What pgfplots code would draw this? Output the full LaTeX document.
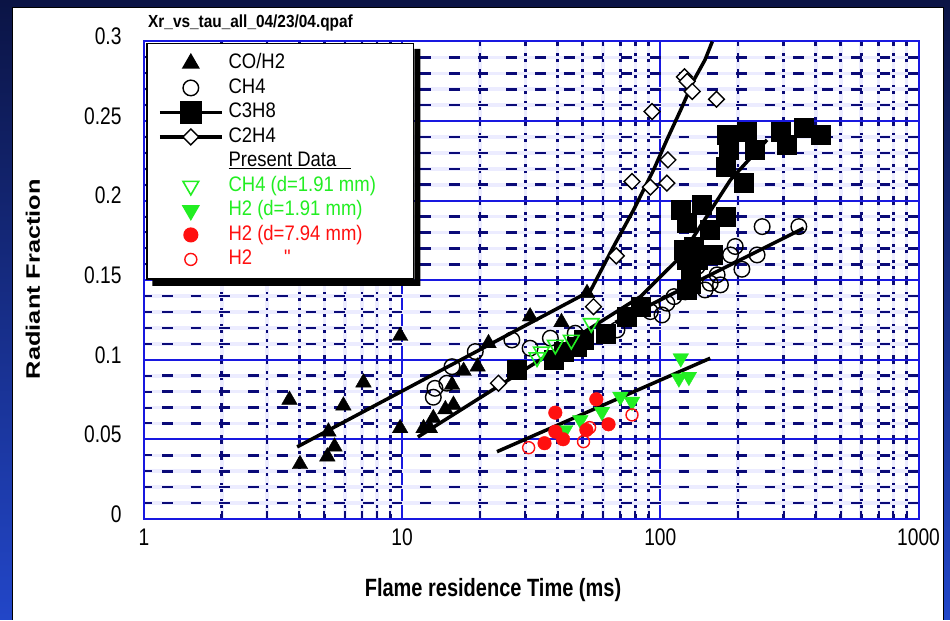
\documentclass[border=0pt]{standalone}
\usepackage{pgfplots}
\pgfplotsset{compat=1.18}
\usepackage{fontspec}
\setmainfont{Liberation Sans}
\newfontfamily\condfont[FakeStretch=0.8]{Liberation Sans}
\newfontfamily\legfont[FakeStretch=0.88]{Liberation Sans}
\newfontfamily\widefont[FakeStretch=1.3]{Liberation Sans}

\definecolor{gridnavy}{HTML}{0A0A78}
\definecolor{gridlav}{HTML}{ECECFF}
\definecolor{gridblue}{HTML}{1818E0}
\definecolor{ptgreen}{HTML}{22EE22}
\definecolor{ptred}{HTML}{FF1010}
\definecolor{bgtop}{HTML}{0B1445}
\definecolor{bgbot}{HTML}{2246C8}

\pgfplotsset{
  markleg/.style={legend image code/.code={\draw plot coordinates {(31pt,0pt)};}},
  lineleg/.style={legend image code/.code={\draw[mark repeat=2,mark phase=2] plot coordinates {(0pt,0pt) (31pt,0pt) (62pt,0pt)};}},
  fitline/.style={black, line width=3.5pt, line join=round, no marks, forget plot},
}

\begin{document}
\begin{tikzpicture}[x=1pt,y=1pt]
% slide background and white chart panel
\shade[top color=bgtop, bottom color=bgbot] (0,0) rectangle (950,620);
\fill[white] (12,0) rectangle (943,612);
\draw[black, line width=1pt] (12,0) -- (12,612) -- (943,612) -- (943,0);

\node[anchor=west, inner sep=0pt] at (148,597)
  {\legfont\bfseries\fontsize{17.5}{17.5}\selectfont Xr\_vs\_tau\_all\_04/23/04.qpaf};

\begin{axis}[
  at={(144pt,101pt)}, anchor=south west,
  scale only axis, width=774.5pt, height=477.5pt,
  xmode=log, xmin=1, xmax=1000, ymin=0, ymax=0.3,
  xtick={1,10,100,1000}, xticklabels={1,10,100,1000},
  minor xtick={2,...,9,20,30,...,90,200,300,...,900},
  ytick={0,0.05,0.1,0.15,0.2,0.25,0.3},
  yticklabels={0,0.05,0.1,0.15,0.2,0.25,0.3},
  minor ytick={0.01,0.02,0.03,0.04,0.06,0.07,0.08,0.09,0.11,0.12,0.13,0.14,
    0.16,0.17,0.18,0.19,0.21,0.22,0.23,0.24,0.26,0.27,0.28,0.29},
  grid=both,
  major grid style={draw=gridblue, line width=1.9pt, solid},
  minor x grid style={gridnavy, line width=2.6pt, dash pattern=on 9pt off 6.91pt, dash phase=4.5pt,
     preaction={draw=gridlav, line width=3.6pt, solid}},
  minor y grid style={gridnavy, line width=2.6pt, dash pattern=on 10.7pt off 18pt, dash phase=10.7pt,
     preaction={draw=gridlav, line width=3.6pt, solid}},
  axis line style={gridblue, line width=2pt},
  tick style={gridnavy, line width=2pt},
  major tick length=0pt, minor tick length=8pt,
  tick align=inside, xtick pos=bottom, ytick pos=both,
  ticklabel style={font=\condfont\fontsize{24}{24}\selectfont, text=black},
  yticklabel style={xshift=-19pt, yshift=5pt},
  xticklabel style={yshift=-6pt},
  xlabel={Flame residence Time (ms)},
  xlabel style={at={(axis description cs:0.4506,-0.1487)}, anchor=center,
     font=\condfont\bfseries\fontsize{25}{25}\selectfont},
  ylabel={Radiant Fraction},
  ylabel style={at={(axis description cs:-0.1433,0.5026)}, anchor=center, rotate=0,
     font=\widefont\bfseries\fontsize{19.5}{19.5}\selectfont},
  legend style={name=leg, at={(axis description cs:0.003,0.997)}, anchor=north west,
     draw=black, line width=1.5pt, fill=white,
     font=\legfont\fontsize{21}{21}\selectfont,
     inner xsep=11pt, inner ysep=10pt, row sep=5pt, column sep=3pt,
     nodes={inner ysep=0pt, text height=15pt, text depth=4.5pt}},
  legend cell align=left,
]

% legend
\addlegendimage{markleg, black, mark=triangle*, mark size=9pt}
\addlegendentry{\makebox[172pt][l]{CO/H2}}
\addlegendimage{markleg, black, mark=o, mark size=7.8pt, line width=1.4pt}
\addlegendentry{CH4}
\addlegendimage{lineleg, black, line width=3.5pt, mark=square*, mark size=9.5pt}
\addlegendentry{C3H8}
\addlegendimage{lineleg, black, line width=3.5pt, mark=square*, mark size=5.6pt,
   mark options={rotate=45, fill=white, draw=black, line width=1.4pt}}
\addlegendentry{C2H4}
\addlegendimage{empty legend}
\addlegendentry{\underline{Present Data\hspace{15pt}}}
\addlegendimage{markleg, ptgreen, mark=triangle, mark size=9pt, line width=1.6pt, mark options={rotate=180}}
\addlegendentry{\textcolor{ptgreen}{CH4 (d=1.91 mm)}}
\addlegendimage{markleg, ptgreen, mark=triangle*, mark size=9pt, mark options={rotate=180}}
\addlegendentry{\textcolor{ptgreen}{H2 (d=1.91 mm)}}
\addlegendimage{markleg, ptred, mark=*, mark size=6.8pt}
\addlegendentry{\textcolor{ptred}{H2 (d=7.94 mm)}}
\addlegendimage{markleg, ptred, mark=o, mark size=6pt, line width=1.4pt}
\addlegendentry{\textcolor{ptred}{H2\hspace{32pt}"}}

% correlation lines
\addplot[fitline] coordinates {(3.92,0.0453) (53.6,0.1433) (65.9,0.1712) (78.8,0.1942) (94.2,0.2194)
  (106,0.2382) (120,0.2571) (135,0.2759) (149,0.2885) (159,0.3)};
\addplot[fitline] coordinates {(11.5,0.0515) (83.7,0.1397) (120,0.1649) (187,0.2131) (259,0.2382)};
\addplot[fitline] coordinates {(66.9,0.1235) (359,0.1827)};
\addplot[fitline] coordinates {(23.3,0.0423) (156,0.101)};

% CO/H2
\addplot[only marks, black, mark=triangle*, mark size=9pt, forget plot] coordinates {
 (3.66,0.0748) (4.02,0.0344) (5.13,0.0392) (5.47,0.0454) (5.18,0.0549) (5.92,0.0712)
 (7.08,0.0857) (9.82,0.115) (9.82,0.057) (12.1,0.057) (12.8,0.057) (13.2,0.0633)
 (14.7,0.0689) (15.8,0.0717) (15.6,0.0842) (17.3,0.093) (19.6,0.0957) (21.6,0.1104)
 (31.3,0.1272) (41.4,0.1236) (52.0,0.1419)};

% CH4
\addplot[only marks, black, mark=o, mark size=7.8pt, line width=1.4pt, forget plot] coordinates {
 (13.2,0.0765) (13.4,0.0821) (14.9,0.0853) (15.6,0.0957) (19.2,0.1052) (26.6,0.1125)
 (31.3,0.1073) (37.5,0.1136) (46.8,0.1167) (67.9,0.1188) (75.2,0.1263) (91.5,0.1303)
 (101.5,0.1282) (106,0.1356) (113,0.1397) (125,0.1427) (131,0.1544) (139,0.1586)
 (149,0.1439) (156,0.1481) (166,0.1534) (171,0.1471) (187,0.1659) (195,0.1712)
 (207,0.1569) (237,0.1659) (248,0.1837) (344,0.1837)};

% C3H8
\addplot[only marks, black, mark=square*, mark size=9.5pt, forget plot] coordinates {
 (27.8,0.0937) (38.6,0.0999) (42.1,0.105) (47.5,0.1083) (50.4,0.1125) (61.2,0.1167)
 (74.3,0.1272) (83.7,0.1334) (131,0.1481) (127,0.1439) (131,0.1565) (127,0.1628)
 (139,0.1628) (123,0.1691) (159,0.1659) (135,0.1712) (127,0.1859) (156,0.1816)
 (120,0.1942) (145,0.1974) (179,0.19) (179,0.2214) (210,0.211) (181,0.2414)
 (184,0.2319) (217,0.2434) (233,0.2319) (292,0.2434) (310,0.2351) (359,0.2456)
 (417,0.2414)};

% C2H4
\addplot[only marks, black, mark=square*, mark size=5.6pt,
  mark options={rotate=45, fill=white, draw=black, line width=1.4pt}, forget plot] coordinates {
 (124,0.2778) (127,0.2749) (133,0.2686) (165,0.2637) (92.9,0.256) (107,0.2256)
 (77.7,0.212) (91.5,0.2085) (106,0.211) (67.5,0.1653) (55.1,0.1334) (23.6,0.0853)};

% present data: CH4, d = 1.91 mm
\addplot[only marks, ptgreen, mark=triangle, mark size=9pt, line width=1.6pt,
  mark options={rotate=180}, forget plot] coordinates {
 (33.3,0.1015) (34.6,0.1052) (39.2,0.1094) (45.2,0.1125) (54.0,0.123)};

% present data: H2, d = 1.91 mm
\addplot[only marks, ptgreen, mark=triangle*, mark size=9pt,
  mark options={rotate=180}, forget plot] coordinates {
 (42.8,0.0559) (49.0,0.0622) (59.4,0.0674) (70.0,0.0769) (77.7,0.0737)
 (120,0.101) (118,0.0884) (129,0.0894)};

% present data: H2, d = 7.94 mm
\addplot[only marks, ptred, mark=*, mark size=6.8pt, forget plot] coordinates {
 (39.2,0.0668) (39.2,0.0549) (42.0,0.0501) (35.6,0.0476) (56.5,0.0752) (51.7,0.0559) (63.0,0.0595)};
\addplot[only marks, ptred, mark=o, mark size=6pt, line width=1.4pt, forget plot] coordinates {
 (30.9,0.0448) (50.4,0.0486) (53.2,0.0574) (77.7,0.0654)};

\end{axis}
% drop shadow along the right and bottom edges of the legend box
\fill[black] ([yshift=-6pt]leg.north east) -- ([xshift=6pt,yshift=-6pt]leg.north east)
  -- ([xshift=6pt,yshift=-6pt]leg.south east) -- ([xshift=6pt,yshift=-6pt]leg.south west)
  -- ([xshift=6pt]leg.south west) -- (leg.south east) -- cycle;
\end{tikzpicture}
\end{document}
